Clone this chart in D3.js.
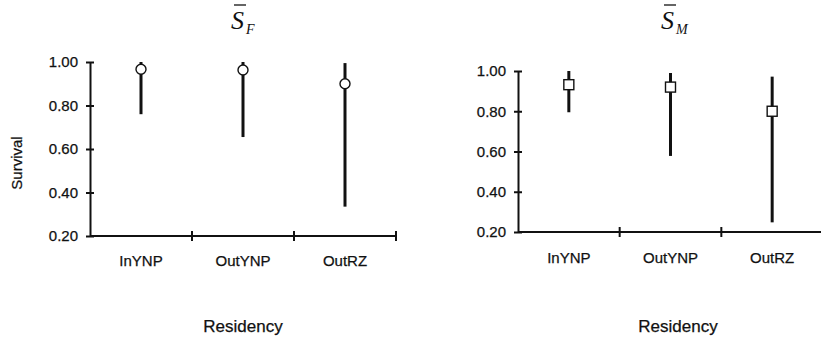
<!DOCTYPE html>
<html>
<head>
<meta charset="utf-8">
<script src="https://cdn.jsdelivr.net/npm/d3@7"></script>
<style>
  body { margin: 0; background: #fff; }
  text { font-family: "Liberation Sans", Arial, sans-serif; fill: #111; stroke: #111; stroke-width: 0.25px; }
</style>
</head>
<body>
<script>
const categories = ["InYNP", "OutYNP", "OutRZ"];
const yTicks = [0.2, 0.4, 0.6, 0.8, 1.0];

// females
const femaleMean = [0.967, 0.963, 0.90];
const femaleLow = [0.76, 0.655, 0.335];
const femaleHigh = [1.00, 1.00, 0.995];

// males
const maleMean = [0.932, 0.92, 0.80];
const maleLow = [0.795, 0.578, 0.248];
const maleHigh = [1.00, 0.99, 0.972];

const width = 821;
const height = 346;

const svg = d3.select('body')
    .append('svg')
    .attr('width', width)
    .attr('height', height);

function drawPanel(opts) {
    const x = d3.scaleBand().domain(categories).range([opts.x0, opts.x1]);
    const y = d3.scaleLinear().domain([0.2, 1.0]).range([opts.yBot, opts.yTop]);
    const g = svg.append('g');

    // y axis
    const yAxis = d3.axisLeft(y)
        .tickValues(yTicks)
        .tickFormat(d3.format('.2f'))
        .tickSizeOuter(0)
        .tickSizeInner(4)
        .tickPadding(8);
    const ya = g.append('g')
        .attr('transform', `translate(${opts.x0},0)`)
        .call(yAxis);
    ya.select('.domain').attr('stroke', '#111').attr('stroke-width', 2);
    ya.selectAll('.tick line').attr('x1', 4).attr('x2', -4)
        .attr('stroke', '#111').attr('stroke-width', 2);
    ya.selectAll('.tick text')
        .style('font-family', '"Liberation Sans", Arial, sans-serif')
        .style('font-size', '15px')
        .attr('fill', '#111');

    // x axis: line plus ticks at band edges
    g.append('line')
        .attr('x1', opts.x0).attr('x2', opts.x1)
        .attr('y1', y(0.2)).attr('y2', y(0.2))
        .attr('stroke', '#111').attr('stroke-width', 2);
    const edges = categories.map(c => x(c) + x.bandwidth());
    g.selectAll('.xtick')
        .data(edges)
        .enter()
        .append('line')
        .attr('x1', d => d).attr('x2', d => d)
        .attr('y1', y(0.2) - 5).attr('y2', y(0.2) + 5)
        .attr('stroke', '#111').attr('stroke-width', 2);
    g.selectAll('.xlabel')
        .data(categories)
        .enter()
        .append('text')
        .attr('x', d => x(d) + x.bandwidth() / 2)
        .attr('y', y(0.2) + opts.labelDy)
        .attr('text-anchor', 'middle')
        .style('font-size', '15px')
        .text(d => d);

    // error bars
    const rows = categories.map((c, i) => ({ c, m: opts.mean[i], lo: opts.low[i], hi: opts.high[i] }));
    g.selectAll('.bar')
        .data(rows)
        .enter()
        .append('line')
        .attr('x1', d => x(d.c) + x.bandwidth() / 2)
        .attr('x2', d => x(d.c) + x.bandwidth() / 2)
        .attr('y1', d => y(d.lo))
        .attr('y2', d => y(d.hi))
        .attr('stroke', '#111')
        .attr('stroke-width', 3);

    if (opts.marker === 'circle') {
        g.selectAll('.pt')
            .data(rows)
            .enter()
            .append('circle')
            .attr('cx', d => x(d.c) + x.bandwidth() / 2)
            .attr('cy', d => y(d.m))
            .attr('r', 5)
            .attr('fill', '#fff')
            .attr('stroke', '#111')
            .attr('stroke-width', 1.4);
    } else {
        g.selectAll('.pt')
            .data(rows)
            .enter()
            .append('rect')
            .attr('x', d => x(d.c) + x.bandwidth() / 2 - 5)
            .attr('y', d => y(d.m) - 5)
            .attr('width', 10)
            .attr('height', 10)
            .attr('fill', '#fff')
            .attr('stroke', '#111')
            .attr('stroke-width', 1.4);
    }

    // title: S with overbar and subscript
    const t = g.append('text')
        .attr('x', opts.titleX)
        .attr('y', 29)
        .style('font-family', '"Liberation Serif", "Times New Roman", serif')
        .style('font-style', 'italic')
        .style('font-size', '26px')
        .style('stroke-width', '0');
    t.append('tspan').text('S');
    t.append('tspan')
        .attr('dx', 2)
        .attr('dy', 5)
        .style('font-size', '14px')
        .text(opts.sub);
    g.append('line')
        .attr('x1', opts.titleX + 3).attr('x2', opts.titleX + 15)
        .attr('y1', 5).attr('y2', 5)
        .attr('stroke', '#111').attr('stroke-width', 1.3);

    // x axis title
    g.append('text')
        .attr('x', opts.xTitleX)
        .attr('y', 332)
        .attr('text-anchor', 'middle')
        .style('font-size', '17px')
        .text('Residency');
}

drawPanel({
    x0: 90, x1: 396, yTop: 62, yBot: 236,
    mean: femaleMean, low: femaleLow, high: femaleHigh,
    marker: 'circle', sub: 'F', titleX: 231, xTitleX: 243, labelDy: 30
});

drawPanel({
    x0: 518, x1: 823, yTop: 71, yBot: 232,
    mean: maleMean, low: maleLow, high: maleHigh,
    marker: 'square', sub: 'M', titleX: 661, xTitleX: 678, labelDy: 31
});

// y axis title, left panel only
svg.append('text')
    .attr('transform', 'translate(22,163) rotate(-90)')
    .attr('text-anchor', 'middle')
    .style('font-size', '15px')
    .text('Survival');
</script>
</body>
</html>
